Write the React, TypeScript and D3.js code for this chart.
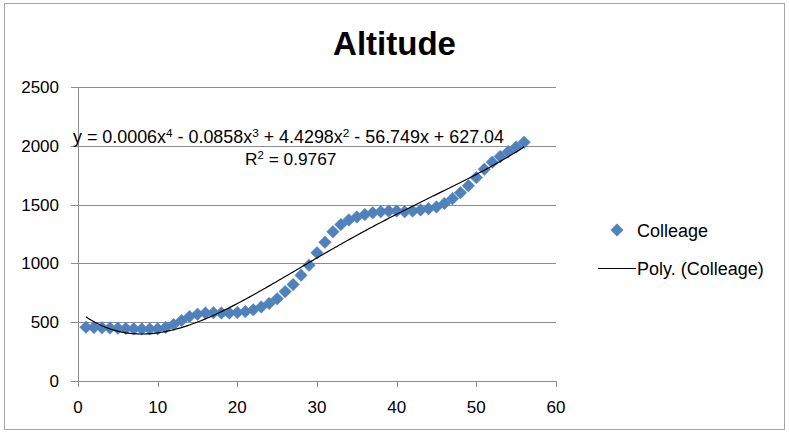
import React from 'react';
import * as d3 from 'd3';

const title = 'Altitude';
const seriesName = 'Colleage';
const trendName = 'Poly. (Colleage)';

const xValues = [
  1, 2, 3, 4, 5, 6, 7, 8, 9, 10, 11, 12, 13, 14, 15, 16, 17, 18, 19, 20,
  21, 22, 23, 24, 25, 26, 27, 28, 29, 30, 31, 32, 33, 34, 35, 36, 37, 38, 39, 40,
  41, 42, 43, 44, 45, 46, 47, 48, 49, 50, 51, 52, 53, 54, 55, 56,
];
const altitude = [
  458, 455, 452, 450, 448, 446, 444, 442, 442, 444,
  455, 480, 515, 548, 568, 578, 580, 578, 578, 582,
  590, 605, 630, 660, 700, 760, 820, 900, 985, 1090,
  1180, 1270, 1330, 1370, 1395, 1415, 1430, 1440, 1445, 1445,
  1440, 1445, 1455, 1465, 1480, 1510, 1550, 1600, 1660, 1730,
  1800, 1860, 1910, 1950, 1990, 2030,
];

const xTicks = [0, 10, 20, 30, 40, 50, 60];
const yTicks = [0, 500, 1000, 1500, 2000, 2500];

// Equation label pieces: [text, superscript]
const equationParts: [string, string][] = [
  ['y = 0.0006x', '4'],
  [' - 0.0858x', '3'],
  [' + 4.4298x', '2'],
  [' - 56.749x + 627.04', ''],
];
const r2Parts: [string, string][] = [
  ['R', '2'],
  [' = 0.9767', ''],
];

const W = 789;
const H = 435;
const FONT = "'Liberation Sans', Arial, sans-serif";
const BLUE = '#4F81BD';
const GRID = '#8c8c8c';

function polyFit(xs: number[], ys: number[], deg: number) {
  const mx = d3.mean(xs) as number;
  const sx = ((d3.max(xs) as number) - (d3.min(xs) as number)) / 2;
  const ts = xs.map((x) => (x - mx) / sx);
  const n = deg + 1;
  const A: number[][] = Array.from({ length: n }, () => new Array(n + 1).fill(0));
  ts.forEach((t, k) => {
    for (let i = 0; i < n; i++) {
      for (let j = 0; j < n; j++) A[i][j] += Math.pow(t, i + j);
      A[i][n] += Math.pow(t, i) * ys[k];
    }
  });
  for (let c = 0; c < n; c++) {
    let p = c;
    for (let r = c + 1; r < n; r++) if (Math.abs(A[r][c]) > Math.abs(A[p][c])) p = r;
    [A[c], A[p]] = [A[p], A[c]];
    for (let r = 0; r < n; r++) {
      if (r === c) continue;
      const f = A[r][c] / A[c][c];
      for (let k = c; k <= n; k++) A[r][k] -= f * A[c][k];
    }
  }
  const coef = A.map((row, i) => row[n] / row[i]);
  return (x: number) => {
    const t = (x - mx) / sx;
    return coef.reduce((s, c, i) => s + c * Math.pow(t, i), 0);
  };
}

function SupText({ parts, x, y, size }: { parts: [string, string][]; x: number; y: number; size: number }) {
  const spans: React.ReactNode[] = [];
  let raised = false;
  parts.forEach(([s, sup], i) => {
    spans.push(
      <tspan key={'s' + i} dy={raised ? 6 : 0}>
        {s}
      </tspan>
    );
    raised = false;
    if (sup) {
      spans.push(
        <tspan key={'u' + i} dy={-6} fontSize={size * 0.66}>
          {sup}
        </tspan>
      );
      raised = true;
    }
  });
  return (
    <text x={x} y={y} fontSize={size} fill="#000">
      {spans}
    </text>
  );
}

export default function App() {
  const x = d3.scaleLinear().domain([0, 60]).range([78, 556]);
  const y = d3.scaleLinear().domain([0, 2500]).range([381, 87]);
  const fit = polyFit(xValues, altitude, 4);
  const xs0 = xValues[0];
  const xs1 = xValues[xValues.length - 1];
  const curvePts: [number, number][] = [];
  for (let i = 0; i <= 220; i++) {
    const xv = xs0 + ((xs1 - xs0) * i) / 220;
    curvePts.push([xv, fit(xv)]);
  }
  const line = d3
    .line<[number, number]>()
    .x((d) => x(d[0]))
    .y((d) => y(d[1]));
  const diamond = d3.symbol(d3.symbolSquare, 78)() as string;

  return (
    <svg
      width={W}
      height={H}
      style={{ position: 'absolute', left: 0, top: 0, background: '#fff' }}
      fontFamily={FONT}
    >
      <rect x={0} y={0} width={W} height={H} fill="#fff" />
      <rect x={4.5} y={3.5} width={780} height={426} fill="#fff" stroke="#a6a6a6" strokeWidth={1} />
      <text x={394.5} y={55} textAnchor="middle" fontSize={33} fontWeight="bold" fill="#000">
        {title}
      </text>

      {/* gridlines */}
      {yTicks.map((t) => (
        <line
          key={'g' + t}
          x1={71}
          x2={x(60)}
          y1={Math.round(y(t)) + 0.5}
          y2={Math.round(y(t)) + 0.5}
          stroke={GRID}
          strokeWidth={1}
        />
      ))}
      {/* y axis */}
      <line x1={x(0) + 0.5} x2={x(0) + 0.5} y1={y(2500)} y2={y(0)} stroke={GRID} />
      {/* x ticks */}
      {xTicks.map((t) => (
        <line
          key={'xt' + t}
          x1={Math.round(x(t)) + 0.5}
          x2={Math.round(x(t)) + 0.5}
          y1={y(0)}
          y2={y(0) + 6}
          stroke={GRID}
        />
      ))}
      {yTicks.map((t) => (
        <text key={'yl' + t} x={59} y={y(t) + 6} textAnchor="end" fontSize={17} fill="#000">
          {t}
        </text>
      ))}
      {xTicks.map((t) => (
        <text key={'xl' + t} x={x(t)} y={413} textAnchor="middle" fontSize={17} fill="#000">
          {t}
        </text>
      ))}

      {/* points */}
      {xValues.map((xv, i) => (
        <path
          key={'p' + i}
          d={diamond}
          transform={`translate(${x(xv)},${y(altitude[i])}) rotate(45)`}
          fill={BLUE}
          stroke={BLUE}
          strokeWidth={0.5}
        />
      ))}
      {/* trendline */}
      <path d={line(curvePts) as string} fill="none" stroke="#000" strokeWidth={1.2} />

      {/* equation */}
      <SupText parts={equationParts} x={73} y={143} size={17.9} />
      <SupText parts={r2Parts} x={245} y={165} size={17.3} />

      {/* legend */}
      <path d={diamond} transform="translate(617,230) rotate(45)" fill={BLUE} stroke={BLUE} strokeWidth={0.5} />
      <text x={637} y={237} fontSize={18} fill="#000">
        {seriesName}
      </text>
      <line x1={598} x2={636} y1={268.5} y2={268.5} stroke="#000" strokeWidth={1.2} />
      <text x={637} y={275} fontSize={18} fill="#000">
        {trendName}
      </text>
    </svg>
  );
}
